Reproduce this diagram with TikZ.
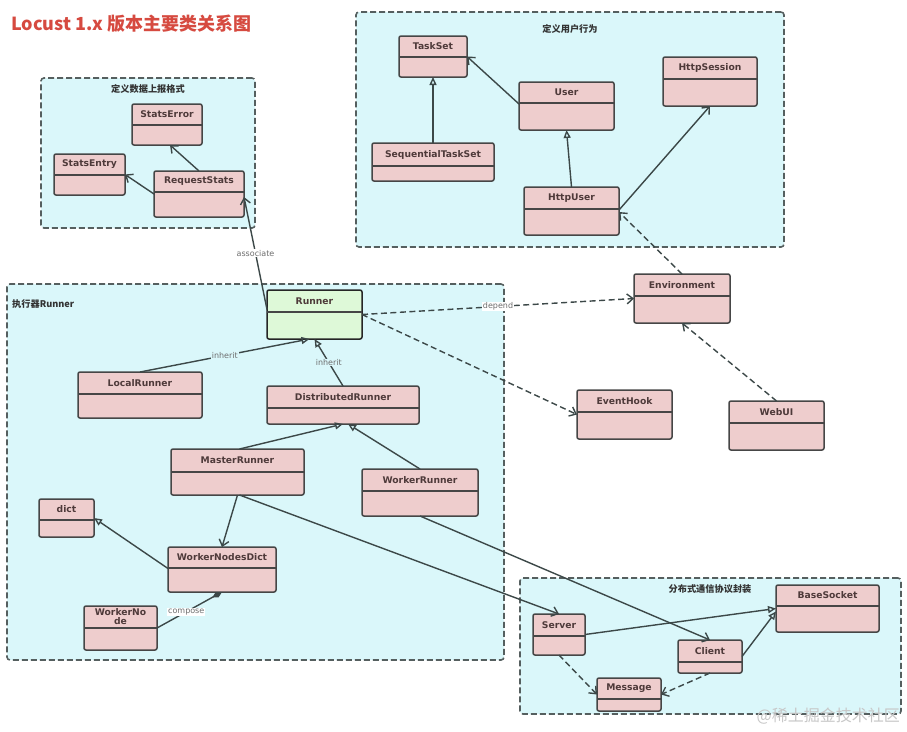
\documentclass[tikz,border=0pt]{standalone}
\usepackage{fontspec}
\setmainfont{DejaVu Sans}
\newfontfamily\cjk{Noto Sans CJK SC}
\usetikzlibrary{arrows.meta}
\definecolor{pkgfill}{RGB}{218,247,250}
\definecolor{pkgline}{RGB}{85,95,95}
\definecolor{clsfill}{RGB}{238,205,205}
\definecolor{runfill}{RGB}{222,249,216}
\definecolor{boxline}{RGB}{70,70,70}
\definecolor{lineC}{RGB}{60,72,72}
\definecolor{txtC}{RGB}{78,58,58}
\definecolor{titleC}{RGB}{214,74,64}
\definecolor{labC}{RGB}{110,110,110}
\tikzset{
  pkgbox/.style={draw=pkgline, fill=pkgfill, line width=1.6pt, dash pattern=on 6pt off 3pt, rounded corners=3pt, inner sep=0pt, outer sep=0pt},
  pkglab/.style={font=\cjk\bfseries\fontsize{9.2}{11}\selectfont, text=black!80, inner sep=0pt},
  clsbox/.style={draw=boxline, fill=clsfill, line width=1.5pt, rounded corners=2pt, inner sep=0pt, outer sep=0pt},
  runbox/.style={clsbox, fill=runfill, draw=black!85},
  clsline/.style={draw=boxline, line width=1.4pt},
  clsname/.style={font=\bfseries\fontsize{9.2}{10}\selectfont, text=txtC, inner sep=0pt, align=center},
  assoc/.style={draw=lineC, line width=1.4pt, -{Straight Barb[length=6pt,width=10pt]}},
  inh/.style={draw=lineC, line width=1.4pt, -{Triangle[open,length=8pt,width=7pt]}},
  dep/.style={assoc, dash pattern=on 6pt off 3.5pt},
  comp/.style={draw=lineC, line width=1.4pt, -{Diamond[length=11pt,width=6pt]}},
  elab/.style={font=\fontsize{8}{9}\selectfont, text=labC, inner sep=0.8pt},
}
% style, name, x1, y1, x2, y2, ydivider, label
\newcommand\umlcls[8]{%
  \node[#1, minimum width={(#5-#3)*1pt}, minimum height={(#6-#4)*1pt}] (#2) at ({(#3+#5)/2},{(#4+#6)/2}) {};
  \draw[clsline] (#3,#7) -- (#5,#7);
  \node[clsname] (#2-name) at ({(#3+#5)/2},{(#4+#7)/2}) {#8};
}
\newcommand\umlpkg[5]{%
  \node[pkgbox, minimum width={(#4-#2)*1pt}, minimum height={(#5-#3)*1pt}] (#1) at ({(#2+#4)/2},{(#3+#5)/2}) {};
}
\begin{document}
\begin{tikzpicture}[x=1pt,y=-1pt]
\useasboundingbox (0,0) rectangle (907,731);
\fill[white] (0,0) rectangle (907,731);
% title
\node[anchor=west, font=\cjk\bfseries\fontsize{18}{20}\selectfont, text=titleC, inner sep=0pt] (title) at (11,24) {Locust 1.x 版本主要类关系图};
% packages
\umlpkg{pkgStats}{41}{78}{255}{228}
\umlpkg{pkgUser}{356}{12}{784}{247}
\umlpkg{pkgRunner}{7}{284}{504}{660}
\umlpkg{pkgRpc}{520}{578}{901}{714}
\node[pkglab] (pkgStats-lab) at (148,89) {定义数据上报格式};
\node[pkglab] (pkgUser-lab) at (570,29) {定义用户行为};
\node[pkglab, anchor=west] (pkgRunner-lab) at (12,304) {执行器Runner};
\node[pkglab] (pkgRpc-lab) at (710,589) {分布式通信协议封装};
% classes
\umlcls{clsbox}{StatsError}{132}{104}{202}{145}{125}{StatsError}
\umlcls{clsbox}{StatsEntry}{54}{154}{125}{195}{175}{StatsEntry}
\umlcls{clsbox}{RequestStats}{154}{171}{244}{217}{192}{RequestStats}
\umlcls{clsbox}{TaskSet}{399}{36}{467}{77}{57}{TaskSet}
\umlcls{clsbox}{User}{519}{82}{614}{130}{103}{User}
\umlcls{clsbox}{HttpSession}{663}{57}{757}{106}{79}{HttpSession}
\umlcls{clsbox}{SequentialTaskSet}{372}{143}{494}{181}{166}{SequentialTaskSet}
\umlcls{clsbox}{HttpUser}{524}{187}{619}{235}{209}{HttpUser}
\umlcls{runbox}{Runner}{267}{290}{362}{339}{312}{Runner}
\umlcls{clsbox}{LocalRunner}{78}{372}{202}{418}{394}{LocalRunner}
\umlcls{clsbox}{DistributedRunner}{267}{386}{419}{424}{408}{DistributedRunner}
\umlcls{clsbox}{MasterRunner}{171}{449}{304}{495}{472}{MasterRunner}
\umlcls{clsbox}{WorkerRunner}{362}{469}{478}{516}{491}{WorkerRunner}
\umlcls{clsbox}{dict}{39}{499}{94}{537}{520}{dict}
\umlcls{clsbox}{WorkerNodesDict}{168}{547}{276}{592}{568}{WorkerNodesDict}
\umlcls{clsbox}{WorkerNode}{84}{606}{157}{650}{628}{WorkerNo\\[-1pt]de}
\umlcls{clsbox}{Environment}{634}{274}{730}{323}{296}{Environment}
\umlcls{clsbox}{EventHook}{577}{390}{672}{439}{412}{EventHook}
\umlcls{clsbox}{WebUI}{729}{401}{824}{450}{423}{WebUI}
\umlcls{clsbox}{BaseSocket}{776}{585}{879}{632}{606}{BaseSocket}
\umlcls{clsbox}{Server}{533}{614}{585}{655}{636}{Server}
\umlcls{clsbox}{Client}{678}{640}{742}{673}{662}{Client}
\umlcls{clsbox}{Message}{597}{678}{661}{711}{699}{Message}
% connectors
\draw[assoc] (RequestStats.north) -- ([xshift=3pt]StatsError.south);
\draw[assoc] (RequestStats.west) -- (StatsEntry.east);
\draw[assoc] ([yshift=5pt]Runner.west) -- node[elab, fill=white] {associate} ([yshift=-3pt]RequestStats.east);
\draw[assoc] ([yshift=2pt]User.west) -- (TaskSet.east);
\draw[inh] (SequentialTaskSet.north) -- (TaskSet.south);
\draw[inh] (HttpUser.north) -- (User.south);
\draw[assoc] ([yshift=1pt]HttpUser.east) -- (HttpSession.south);
\draw[dep] (Environment.north) -- ([yshift=-1pt]HttpUser.east);
\draw[dep] (Runner.east) -- node[elab, fill=white] {depend} (Environment.west);
\draw[dep] (Runner.east) -- (EventHook.west);
\draw[dep] (WebUI.north) -- (Environment.south);
\draw[inh] (LocalRunner.north) -- node[elab, fill=pkgfill] {inherit} ([xshift=-5pt]Runner.south);
\draw[inh] (DistributedRunner.north) -- node[elab, fill=pkgfill] {inherit} (Runner.south);
\draw[inh] ([xshift=2pt]MasterRunner.north) -- (DistributedRunner.south);
\draw[inh] (WorkerRunner.north) -- ([xshift=5pt]DistributedRunner.south);
\draw[assoc] (MasterRunner.south) -- (WorkerNodesDict.north);
\draw[inh] ([yshift=1pt]WorkerNodesDict.west) -- (dict.east);
\draw[comp] (WorkerNode.east) -- node[elab, fill=white, pos=0.45] {compose} (WorkerNodesDict.south);
\draw[assoc] ([xshift=2pt]MasterRunner.south) -- (Server.north);
\draw[assoc] (WorkerRunner.south) -- (Client.north);
\draw[inh] (Server.east) -- (BaseSocket.west);
\draw[inh] (Client.east) -- ([yshift=-3pt]BaseSocket.west);
\draw[dep] (Server.south) -- (Message.west);
\draw[dep] (Client.south) -- (Message.east);
% watermark
\node[anchor=east, text=black!22, font=\cjk\fontsize{16}{18}\selectfont, inner sep=0pt] (wm) at (900,716) {@稀土掘金技术社区};
\end{tikzpicture}
\end{document}
